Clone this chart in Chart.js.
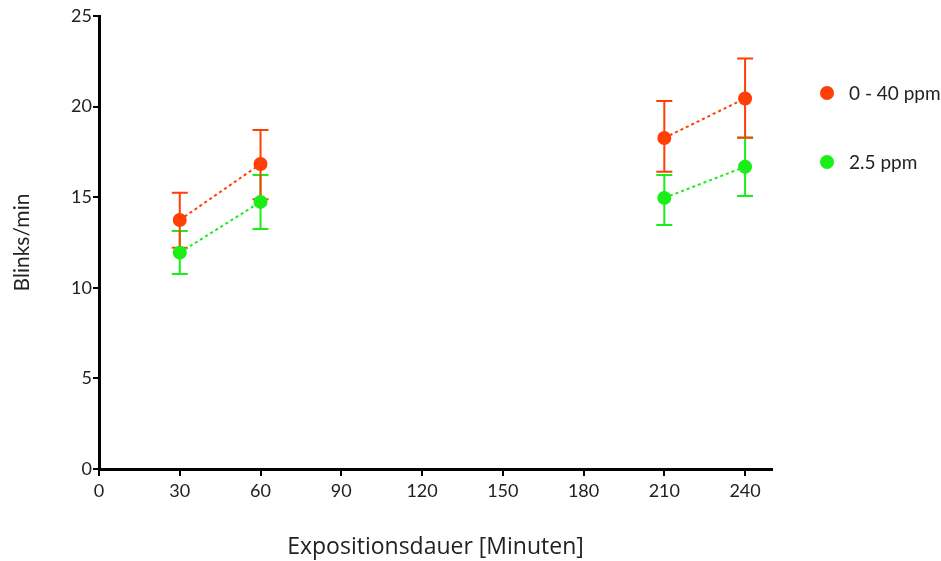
<!DOCTYPE html>
<html>
<head>
<meta charset="utf-8">
<script src="https://cdn.jsdelivr.net/npm/chart.js@4"></script>
<style>
  body { margin: 0; background: #fff; }
</style>
</head>
<body>
<canvas id="blinkChart" width="941" height="561"></canvas>
<script>
// exposure time (minutes) and blink rates
var minutes = [30, 60, 210, 240];
var xTicks = [0, 30, 60, 90, 120, 150, 180, 210, 240];
var yTicks = [0, 5, 10, 15, 20, 25];

var highLabel = '0 - 40 ppm';
var highMean = [13.74, 16.83, 18.27, 20.45];
var highLow = [12.21, 14.88, 16.41, 18.28];
var highHigh = [15.25, 18.71, 20.31, 22.66];

var lowLabel = '2.5 ppm';
var lowMean = [11.94, 14.74, 14.96, 16.68];
var lowLow = [10.76, 13.25, 13.47, 15.07];
var lowHigh = [13.13, 16.22, 16.22, 18.3];

var red = '#ff3f05';
var green = '#19ee19';
var font = 'Lato, "Open Sans", sans-serif';

function points(ys) {
  return minutes.map(function (m, i) { return { x: m, y: ys[i] }; });
}

// error bars drawn below the points
var errorBars = {
  id: 'errorBars',
  beforeDatasetsDraw: function (chart) {
    var ctx = chart.ctx;
    var xs = chart.scales.x, ys = chart.scales.y;
    for (var d = chart.data.datasets.length - 1; d >= 0; d--) {
      var ds = chart.data.datasets[d];
      ctx.save();
      ctx.strokeStyle = ds.backgroundColor;
      ctx.lineWidth = 2;
      ds.data.forEach(function (p, i) {
        var x = xs.getPixelForValue(p.x);
        var top = ys.getPixelForValue(ds.errHigh[i]);
        var bot = ys.getPixelForValue(ds.errLow[i]);
        ctx.beginPath();
        ctx.moveTo(x, top); ctx.lineTo(x, bot);
        ctx.moveTo(x - 8, top); ctx.lineTo(x + 8, top);
        ctx.moveTo(x - 8, bot); ctx.lineTo(x + 8, bot);
        ctx.stroke();
      });
      ctx.restore();
    }
  }
};

// legend on the right, dots + labels
var sideLegend = {
  id: 'sideLegend',
  afterDraw: function (chart) {
    var ctx = chart.ctx;
    var area = chart.chartArea;
    ctx.save();
    chart.data.datasets.forEach(function (ds, i) {
      var y = area.top + 77 + i * 69;
      ctx.fillStyle = ds.backgroundColor;
      ctx.beginPath();
      ctx.arc(area.right + 55, y, 7, 0, Math.PI * 2);
      ctx.fill();
      ctx.fillStyle = '#222';
      ctx.font = '19px ' + font;
      ctx.textBaseline = 'middle';
      ctx.fillText(ds.label, area.right + 77, y + 1);
    });
    ctx.restore();
  }
};

// break the dotted line between the two sessions
function gap(c) {
  return c.p1.parsed.x - c.p0.parsed.x > 30 ? 'rgba(0,0,0,0)' : undefined;
}

var ctx = document.getElementById('blinkChart').getContext('2d');
var myChart = new Chart(ctx, {
  type: 'line',
  data: {
    datasets: [{
      label: highLabel,
      data: points(highMean),
      errLow: highLow,
      errHigh: highHigh,
      borderColor: red,
      backgroundColor: red,
      borderWidth: 2,
      borderDash: [3, 3],
      pointRadius: 7,
      pointBorderWidth: 0,
      segment: { borderColor: gap }
    }, {
      label: lowLabel,
      data: points(lowMean),
      errLow: lowLow,
      errHigh: lowHigh,
      borderColor: green,
      backgroundColor: green,
      borderWidth: 2,
      borderDash: [3, 3],
      pointRadius: 7,
      pointBorderWidth: 0,
      segment: { borderColor: gap }
    }]
  },
  options: {
    responsive: false,
    animation: false,
    layout: { padding: { top: 16, right: 169, bottom: 0, left: 0 } },
    plugins: {
      legend: { display: false },
      tooltip: { enabled: false }
    },
    scales: {
      x: {
        type: 'linear',
        min: 0,
        max: 250,
        afterBuildTicks: function (scale) {
          scale.ticks = xTicks.map(function (v) { return { value: v }; });
        },
        afterFit: function (scale) { scale.height = 92; },
        border: { display: true, color: '#000', width: 3 },
        grid: { drawOnChartArea: false, drawTicks: true, tickLength: 7, tickColor: '#000', lineWidth: 2 },
        ticks: { color: '#222', font: { family: font, size: 18 }, padding: 4, maxRotation: 0 },
        title: {
          display: true,
          text: 'Expositionsdauer [Minuten]',
          color: '#222',
          font: { family: '"Open Sans", Lato, sans-serif', size: 23 },
          padding: { top: 0, bottom: 0 }
        }
      },
      y: {
        min: 0,
        max: 25,
        afterBuildTicks: function (scale) {
          scale.ticks = yTicks.map(function (v) { return { value: v }; });
        },
        afterFit: function (scale) { scale.width = 99; },
        border: { display: true, color: '#000', width: 3 },
        grid: { drawOnChartArea: false, drawTicks: true, tickLength: 6, tickColor: '#000', lineWidth: 2 },
        ticks: { color: '#222', font: { family: font, size: 18 }, padding: 1 },
        title: {
          display: true,
          text: 'Blinks/min',
          color: '#222',
          font: { family: font, size: 21 },
          padding: { top: 10, bottom: 0 }
        }
      }
    }
  },
  plugins: [errorBars, sideLegend]
});
</script>
</body>
</html>
